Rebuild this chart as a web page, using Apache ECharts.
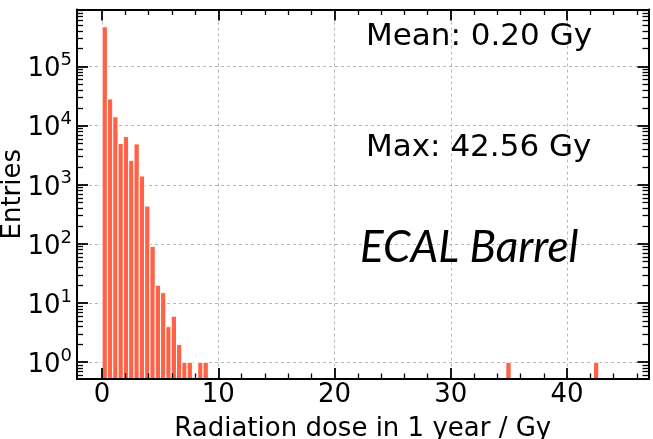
<!DOCTYPE html>
<html>
<head>
<meta charset="utf-8">
<script src="https://cdn.jsdelivr.net/npm/echarts@6/dist/echarts.min.js"></script>
<style>
  html, body { margin: 0; padding: 0; background: #fff; }
  #chart { width: 653px; height: 439px; }
</style>
</head>
<body>
<div id="chart"></div>
<script>
// ---- data ----
const binWidth = 0.457;                      // Gy per bin
const binLeft = [0, 0.457, 0.914, 1.371, 1.828, 2.285, 2.742, 3.199, 3.656, 4.113,
                 4.570, 5.027, 5.484, 5.941, 6.398, 6.855, 7.312, 8.226, 8.683,
                 34.73, 42.27];
const counts  = [469000, 28300, 14100, 4980, 6540, 2570, 4910, 1410, 437, 91,
                 20, 15, 4, 6, 2, 1, 1, 1, 1,
                 1, 1];
const xTickValues = [0, 10, 20, 30, 40];
const xMinorTickValues = [2, 4, 6, 8, 12, 14, 16, 18, 22, 24, 26, 28, 32, 34, 36, 38, 42, 44, 46];
const yTickExponents = [0, 1, 2, 3, 4, 5];
const yMinorMultipliers = [2, 3, 4, 5, 6, 7, 8, 9];
const xRange = [-2.16, 47.0];
const yRange = [0.52, 9.2e5];
const annotations = ['Mean: 0.20 Gy', 'Max: 42.56 Gy', 'ECAL Barrel'];
const xTitle = 'Radiation dose in 1 year / Gy';
const yTitle = 'Entries';

// ---- derived tables ----
const yTickValues = yTickExponents.map(e => Math.pow(10, e));
const yMinorTickValues = [];
for (let e = -1; e <= 5; e++) {
  yMinorMultipliers.forEach(m => {
    const v = m * Math.pow(10, e);
    if (v > yRange[0] && v < yRange[1]) yMinorTickValues.push(v);
  });
}
const histData = binLeft.map((x, i) => [x, counts[i]]);

const FONT = 'DejaVu Sans';
const BAR = '#ff6347';

const hiddenLine = { show: false, onZero: false };
function xAxisBase(extra) {
  return Object.assign({
    type: 'value', min: xRange[0], max: xRange[1],
    axisLine: hiddenLine, axisTick: { show: false },
    axisLabel: { show: false }, splitLine: { show: false }
  }, extra);
}
function yAxisBase(extra) {
  return Object.assign({
    type: 'log', logBase: 10, min: yRange[0], max: yRange[1],
    axisLine: hiddenLine, axisTick: { show: false },
    axisLabel: { show: false }, splitLine: { show: false }
  }, extra);
}
const frameLine = { show: true, onZero: false, lineStyle: { color: '#000', width: 2 } };
const majorTick = (vals) => ({ show: true, inside: true, length: 11, customValues: vals, lineStyle: { color: '#000', width: 1.8 } });
const minorTickX = { show: true, inside: true, length: 5.5, customValues: xMinorTickValues, lineStyle: { color: '#000', width: 1.3 } };
const minorTickY = { show: true, inside: true, length: 6, customValues: yMinorTickValues, lineStyle: { color: '#000', width: 1.3 } };

const chart = echarts.init(document.getElementById('chart'), null, { renderer: 'canvas' });
chart.setOption({
  animation: false,
  backgroundColor: '#fff',
  grid: { left: 77, right: 4.5, top: 9.5, bottom: 60, containLabel: false, outerBoundsMode: 'none' },
  xAxis: [
    xAxisBase({
      position: 'bottom', z: 0,
      name: xTitle, nameLocation: 'middle', nameGap: 37, nameMoveOverlap: false,
      nameTextStyle: { fontFamily: FONT, fontSize: 26, color: '#000' },
      axisTick: { show: false, customValues: xTickValues },
      axisLabel: { show: true, customValues: xTickValues, margin: 3, fontFamily: FONT, fontSize: 26, color: '#000' },
      splitLine: { show: true, lineStyle: { color: '#b0b0b0', type: [3, 3], width: 0.9 } }
    }),
    xAxisBase({ position: 'bottom', z: 10, axisLine: frameLine, axisTick: majorTick(xTickValues) }),
    xAxisBase({ position: 'bottom', z: 10, axisTick: minorTickX }),
    xAxisBase({ position: 'top', z: 10, axisLine: frameLine, axisTick: majorTick(xTickValues) }),
    xAxisBase({ position: 'top', z: 10, axisTick: minorTickX })
  ],
  yAxis: [
    yAxisBase({
      position: 'left', z: 0,
      name: yTitle, nameLocation: 'middle', nameGap: 51, nameMoveOverlap: false,
      nameTextStyle: { fontFamily: FONT, fontSize: 26, color: '#000' },
      axisTick: { show: false, customValues: yTickValues },
      axisLabel: {
        show: true, customValues: yTickValues, margin: 5, padding: [6, 0, 0, 0],
        formatter: v => '{b|10}{s|' + Math.round(Math.log10(v)) + '}',
        rich: {
          b: { fontFamily: FONT, fontSize: 26, lineHeight: 36, color: '#000' },
          s: { fontFamily: FONT, fontSize: 18, lineHeight: 10, verticalAlign: 'top', color: '#000' }
        }
      },
      splitLine: { show: true, lineStyle: { color: '#b0b0b0', type: [3, 3], width: 0.9 } }
    }),
    yAxisBase({ position: 'left', z: 10, axisLine: frameLine, axisTick: majorTick(yTickValues) }),
    yAxisBase({ position: 'left', z: 10, axisTick: minorTickY }),
    yAxisBase({ position: 'right', z: 10, axisLine: frameLine, axisTick: majorTick(yTickValues) }),
    yAxisBase({ position: 'right', z: 10, axisTick: minorTickY })
  ],
  series: [{
    type: 'custom',
    xAxisIndex: 0, yAxisIndex: 0,
    z: 5,
    clip: true,
    data: histData,
    encode: { x: 0, y: 1 },
    renderItem: function (params, api) {
      const x0 = api.value(0);
      const c = api.value(1);
      const pTop = api.coord([x0, c]);
      const pBot = api.coord([x0 + binWidth, yRange[0]]);
      return {
        type: 'rect',
        shape: { x: pTop[0], y: pTop[1], width: pBot[0] - pTop[0], height: pBot[1] - pTop[1] },
        style: { fill: BAR, stroke: '#ffffff', lineWidth: 1 }
      };
    }
  }],
  graphic: [
    { type: 'text', left: 366, top: 21, z: 20,
      style: { text: annotations[0], font: '31px "DejaVu Sans"', fill: '#000' } },
    { type: 'text', left: 366, top: 132, z: 20,
      style: { text: annotations[1], font: '31px "DejaVu Sans"', fill: '#000' } },
    { type: 'text', left: 360, top: 226, z: 20,
      style: { text: annotations[2], font: 'italic 44px Lato', fill: '#000' } }
  ]
});
</script>
</body>
</html>
